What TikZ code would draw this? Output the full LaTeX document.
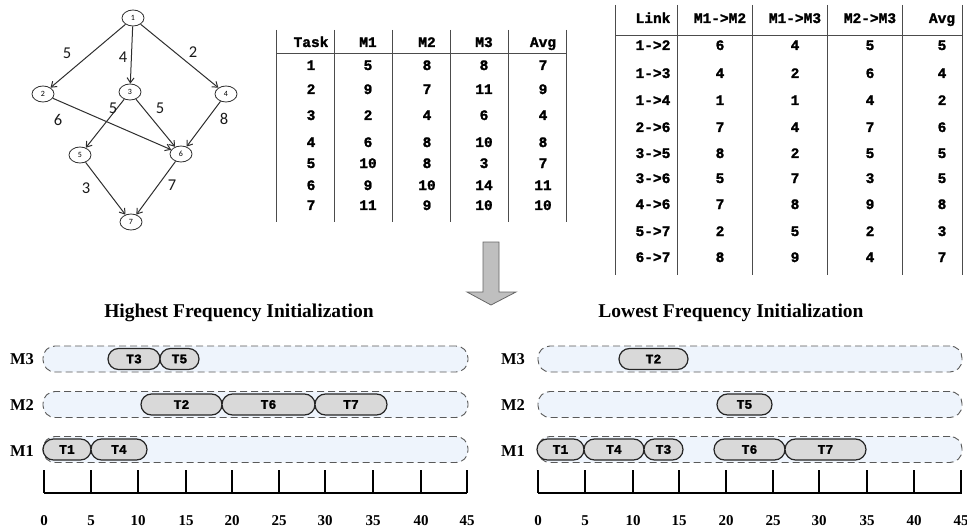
\documentclass[tikz,border=0pt]{standalone}
\usepackage{fontspec}
\setmainfont{Liberation Serif}
\newfontfamily\tabfont[BoldFont={Liberation Mono Bold},BoldFeatures={FakeBold=1.6}]{Liberation Mono}
\newfontfamily\lblfont{Carlito}
\usetikzlibrary{arrows.meta,shapes.geometric}
\definecolor{lanefill}{HTML}{EEF4FC}
\definecolor{taskfill}{HTML}{D9D9D9}
\definecolor{linegray}{HTML}{2E2E2E}
\tikzset{
  gnode/.style={draw=linegray, line width=0.8pt, ellipse, minimum width=22pt, minimum height=16pt, inner sep=0pt, font=\lblfont\fontsize{8}{9}\selectfont},
  gedge/.style={draw=linegray, line width=1pt, -{Straight Barb[length=5pt,width=7pt]}},
  elabel/.style={font=\lblfont\fontsize{16.5}{18}\selectfont, text=black!90, inner sep=0pt},
  tab/.style={font=\tabfont\bfseries\fontsize{14.5}{16}\selectfont, inner sep=0pt, anchor=base},
  tline/.style={draw=black!70, line width=0.9pt},
  lane/.style={draw=black!65, fill=lanefill, dashed, dash pattern=on 7pt off 4pt, line width=0.9pt, rounded corners=12pt, minimum height=26pt, inner sep=0pt},
  taskbox/.style={draw=black!85, fill=taskfill, line width=1.2pt, rounded corners=10.5pt, minimum height=21pt, inner sep=0pt, font=\tabfont\bfseries\fontsize{13}{14}\selectfont},
  mlabel/.style={font=\bfseries\fontsize{16.5}{18}\selectfont, inner sep=0pt},
  axlabel/.style={font=\bfseries\fontsize{15}{17}\selectfont, inner sep=0pt, anchor=base},
  title/.style={font=\bfseries\fontsize{19.5}{22}\selectfont, inner sep=0pt},
  tick/.style={draw=black, line width=1.3pt},
  bigarrow/.style={draw=black!60, fill=black!25, line width=0.8pt}
}
\begin{document}
\begin{tikzpicture}[x=1pt,y=-1pt]
\useasboundingbox (0,0) rectangle (967,532);

% ---------- DAG ----------
\node[gnode] (n1) at (133,18) {1};
\node[gnode] (n2) at (43,94) {2};
\node[gnode] (n3) at (130,92) {3};
\node[gnode] (n4) at (226,94) {4};
\node[gnode] (n5) at (80,155) {5};
\node[gnode] (n6) at (181,154) {6};
\node[gnode] (n7) at (131,222) {7};
\draw[gedge] (n1) -- (n2);
\draw[gedge] (n1) -- (n3);
\draw[gedge] (n1) -- (n4);
\draw[gedge] (n2) -- (n6);
\draw[gedge] (n3) -- (n5);
\draw[gedge] (n3) -- (n6);
\draw[gedge] (n4) -- (n6);
\draw[gedge] (n5) -- (n7);
\draw[gedge] (n6) -- (n7);
\node[elabel] (l12) at (67,53) {5};
\node[elabel] (l13) at (123,57) {4};
\node[elabel] (l14) at (193,52) {2};
\node[elabel] (l26) at (58,120) {6};
\node[elabel] (l35) at (113,108) {5};
\node[elabel] (l36) at (160,108) {5};
\node[elabel] (l46) at (224,119) {8};
\node[elabel] (l57) at (86,188) {3};
\node[elabel] (l67) at (172,185) {7};

% ---------- Task table ----------
\foreach \x in {276,334,392,450,508,566} \draw[tline] (\x,30) -- (\x,222);
\draw[tline] (276,53) -- (566,53);
\foreach \r/\y/\a/\b/\c/\d/\e in {0/47/Task/M1/M2/M3/Avg,1/70/1/5/8/8/7,2/94/2/9/7/11/9,3/120/3/2/4/6/4,4/147/4/6/8/10/8,5/168/5/10/8/3/7,6/190/6/9/10/14/11,7/210/7/11/9/10/10}{
  \node[tab] (ta\r a) at (311,\y) {\a};
  \node[tab] (ta\r b) at (368,\y) {\b};
  \node[tab] (ta\r c) at (427,\y) {\c};
  \node[tab] (ta\r d) at (484,\y) {\d};
  \node[tab] (ta\r e) at (543,\y) {\e};
}

% ---------- Link table ----------
\foreach \x in {615,677,752,827,902,962} \draw[tline] (\x,5) -- (\x,275);
\draw[tline] (615,35) -- (962,35);
\foreach \r/\y/\a/\b/\c/\d/\e in {0/23/Link/M1->M2/M1->M3/M2->M3/Avg,1/50/1->2/6/4/5/5,2/78/1->3/4/2/6/4,3/105/1->4/1/1/4/2,4/132/2->6/7/4/7/6,5/158/3->5/8/2/5/5,6/183/3->6/5/7/3/5,7/209/4->6/7/8/9/8,8/236/5->7/2/5/2/3,9/262/6->7/8/9/4/7}{
  \node[tab] (tb\r a) at (653,\y) {\a};
  \node[tab] (tb\r b) at (720,\y) {\b};
  \node[tab] (tb\r c) at (795,\y) {\c};
  \node[tab] (tb\r d) at (870,\y) {\d};
  \node[tab] (tb\r e) at (942,\y) {\e};
}

% ---------- big arrow ----------
\draw[bigarrow] (483,242) -- (499,242) -- (499,292) -- (516,292) -- (491,305) -- (467,292) -- (483,292) -- cycle;

% ---------- Left Gantt ----------
\node[title] (titleL) at (239,313) {Highest Frequency Initialization};
\node[mlabel] (lm3) at (22,359) {M3};
\node[mlabel] (lm2) at (22,405) {M2};
\node[mlabel] (lm1) at (22,451) {M1};
\node[lane, minimum width=425pt] (laneL3) at (255.5,359) {};
\node[lane, minimum width=425pt] (laneL2) at (255.5,404.5) {};
\node[lane, minimum width=425pt] (laneL1) at (255.5,449.5) {};
\node[taskbox, minimum width=52pt] (L3) at (134,359) {T3};
\node[taskbox, minimum width=39pt] (L5) at (179.5,359) {T5};
\node[taskbox, minimum width=81pt] (L2) at (181.5,404.5) {T2};
\node[taskbox, minimum width=93pt] (L6) at (268.5,404.5) {T6};
\node[taskbox, minimum width=72pt] (L7) at (351,404.5) {T7};
\node[taskbox, minimum width=48pt] (L1) at (67,449.5) {T1};
\node[taskbox, minimum width=56pt] (L4) at (119,449.5) {T4};
\draw[tick] (44,493) -- (467,493);
\foreach \t/\x in {0/44,5/91,10/138,15/186,20/232,25/279,30/325,35/373,40/421,45/467}{
  \draw[tick] (\x,470) -- (\x,493);
  \node[axlabel] (axL\t) at (\x,525) {\t};
}

% ---------- Right Gantt ----------
\node[title] (titleR) at (731,313) {Lowest Frequency Initialization};
\node[mlabel] (rm3) at (513,359) {M3};
\node[mlabel] (rm2) at (513,405) {M2};
\node[mlabel] (rm1) at (513,451) {M1};
\node[lane, minimum width=424pt] (laneR3) at (750,359) {};
\node[lane, minimum width=424pt] (laneR2) at (750,404.5) {};
\node[lane, minimum width=424pt] (laneR1) at (750,449.5) {};
\node[taskbox, minimum width=69pt] (R2) at (653.5,359) {T2};
\node[taskbox, minimum width=55pt] (R5) at (744.5,404.5) {T5};
\node[taskbox, minimum width=47pt] (R1) at (560.5,449.5) {T1};
\node[taskbox, minimum width=60pt] (R4) at (614,449.5) {T4};
\node[taskbox, minimum width=39pt] (R3) at (663.5,449.5) {T3};
\node[taskbox, minimum width=71pt] (R6) at (749.5,449.5) {T6};
\node[taskbox, minimum width=81pt] (R7) at (825.5,449.5) {T7};
\draw[tick] (538,493) -- (962,493);
\foreach \t/\x in {0/538,5/585,10/633,15/679,20/726,25/773,30/819,35/867,40/914,45/961}{
  \draw[tick] (\x,470) -- (\x,493);
  \node[axlabel] (axR\t) at (\x,525) {\t};
}
\end{tikzpicture}
\end{document}
